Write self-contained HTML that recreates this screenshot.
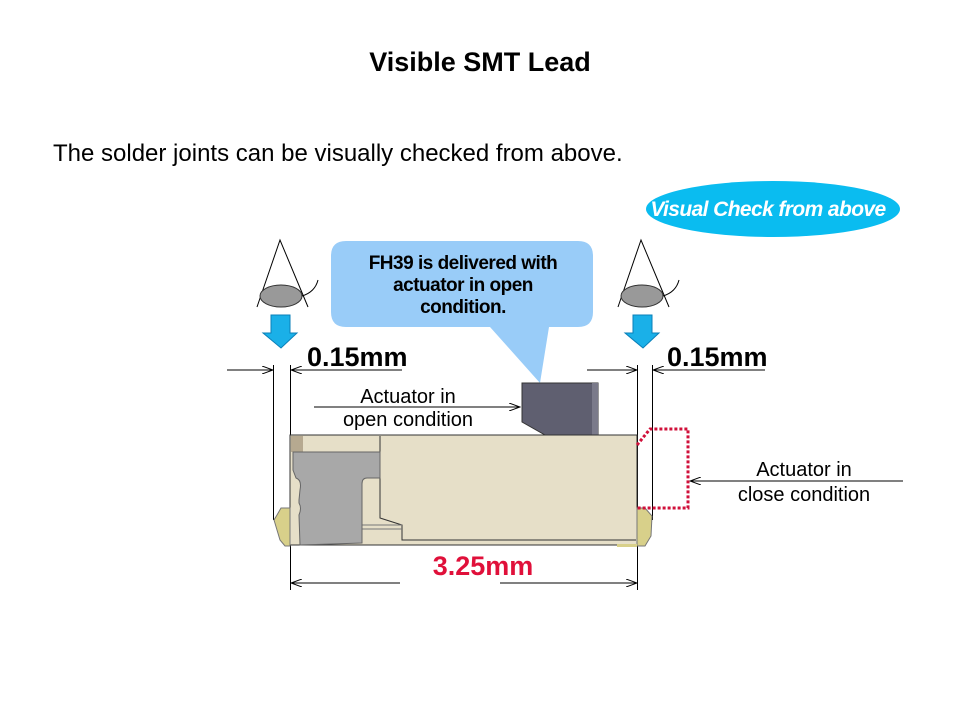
<!DOCTYPE html>
<html><head><meta charset="utf-8"><style>
html,body{margin:0;padding:0;background:#fff;}
body{width:960px;height:720px;overflow:hidden;}
svg{display:block;font-family:"Liberation Sans",Arial,sans-serif;}
</style></head><body>
<svg width="960" height="720" viewBox="0 0 960 720">
<defs>
<marker id="ar" markerWidth="12" markerHeight="8" refX="11" refY="4" orient="auto" markerUnits="userSpaceOnUse">
<path d="M0,0 L11,4 L0,8" fill="none" stroke="#000" stroke-width="1"/></marker>
</defs>
<text x="480" y="71" font-size="27" font-weight="bold" text-anchor="middle">Visible SMT Lead</text>
<text x="53" y="161" font-size="24">The solder joints can be visually checked from above.</text>

<ellipse cx="773" cy="209" rx="127" ry="28" fill="#0abcf0"/>
<text x="768" y="216" font-size="21" font-weight="bold" font-style="italic" fill="#fff" text-anchor="middle" letter-spacing="-0.6">Visual Check from above</text>

<!-- bubble -->
<path d="M346,241 H578 Q593,241 593,256 V312 Q593,327 578,327 H549 L540,383 L490,327 H346 Q331,327 331,312 V256 Q331,241 346,241 Z" fill="#99ccf8"/>
<text font-size="19" font-weight="bold" text-anchor="middle" letter-spacing="-0.5"><tspan x="463" y="269">FH39 is delivered with</tspan><tspan x="463" y="291">actuator in open</tspan><tspan x="463" y="313">condition.</tspan></text>

<!-- eyes -->
<g fill="none" stroke="#000" stroke-width="1">
<path d="M257,307 L280,240 L308,307"/>
<ellipse cx="281" cy="296" rx="21" ry="11" fill="#999" stroke="#333"/>
<path d="M302,296 Q315,292 318,280"/>
</g>
<g transform="translate(361,0)" fill="none" stroke="#000" stroke-width="1">
<path d="M257,307 L280,240 L308,307"/>
<ellipse cx="281" cy="296" rx="21" ry="11" fill="#999" stroke="#333"/>
<path d="M302,296 Q315,292 318,280"/>
</g>
<path d="M271,315 H290 V333 H297 L281,348 L263,333 H271 Z" fill="#1ab0e8" stroke="#0a7fb8" stroke-width="1"/>
<path d="M633,315 H652 V333 H659 L643,348 L625,333 H633 Z" fill="#1ab0e8" stroke="#0a7fb8" stroke-width="1"/>

<!-- dimension lines -->
<g stroke="#000" stroke-width="1" fill="none">
<line x1="273.5" y1="365" x2="273.5" y2="520"/>
<line x1="290.5" y1="365" x2="290.5" y2="590"/>
<line x1="637.5" y1="365" x2="637.5" y2="590"/>
<line x1="652.5" y1="365" x2="652.5" y2="520"/>
<line x1="227" y1="370" x2="273" y2="370" marker-end="url(#ar)"/>
<line x1="402" y1="370" x2="291" y2="370" marker-end="url(#ar)"/>
<line x1="587" y1="370" x2="637" y2="370" marker-end="url(#ar)"/>
<line x1="765" y1="370" x2="653" y2="370" marker-end="url(#ar)"/>
<line x1="314" y1="407" x2="520" y2="407" marker-end="url(#ar)"/>
<line x1="903" y1="481" x2="690" y2="481" marker-end="url(#ar)"/>
<line x1="400" y1="583" x2="291" y2="583" marker-end="url(#ar)"/>
<line x1="500" y1="583" x2="637" y2="583" marker-end="url(#ar)"/>
</g>
<text x="307" y="366" font-size="27" font-weight="bold">0.15mm</text>
<text x="667" y="366" font-size="27" font-weight="bold">0.15mm</text>
<text x="483" y="575" font-size="27" font-weight="bold" fill="#e0103a" text-anchor="middle">3.25mm</text>
<text font-size="20" text-anchor="middle"><tspan x="408" y="403">Actuator in</tspan><tspan x="408" y="426">open condition</tspan></text>
<text font-size="20" text-anchor="middle"><tspan x="804" y="476">Actuator in</tspan><tspan x="804" y="501">close condition</tspan></text>

<!-- connector body -->
<path d="M522,383 H598 V435 H545 L522,422 Z" fill="#5f5f70" stroke="#333"/>
<rect x="592" y="383" width="6" height="52" fill="#7a7a8a"/>
<rect x="290" y="435" width="347" height="110" fill="#e6dfc8" stroke="#333"/>
<rect x="291" y="436" width="12" height="16" fill="#b6a990"/>
<line x1="303" y1="452" x2="380" y2="452" stroke="#555"/>
<path d="M380,436 V518 L402,525 V540 H636" fill="none" stroke="#333"/>
<line x1="359" y1="525" x2="402" y2="525" stroke="#777"/>
<line x1="359" y1="529" x2="402" y2="529" stroke="#777"/>
<path d="M293,452 H380 V478 H367 Q362,478 362,484 V543 L300,545 L299,515 Q302,508 299,503 V500 L300,490 Q302,480 296,478 L293,470 Z" fill="#a8a8a8" stroke="#666"/>
<path d="M290,508 H281 L277,515 L274,520 L277,530 L280,540 L285,546 L290,546 Z" fill="#d8d08a" stroke="#777"/>
<path d="M637,508 H645 L652,516 L651,536 L645,546 L637,546 Z" fill="#d8d08a" stroke="#777"/>
<rect x="617" y="544" width="20" height="3" fill="#d8d08a"/>
<path d="M637,445 L650,429 H688 V508 H637" fill="none" stroke="#d0103a" stroke-width="3" stroke-dasharray="3,2"/>
</svg>
</body></html>
